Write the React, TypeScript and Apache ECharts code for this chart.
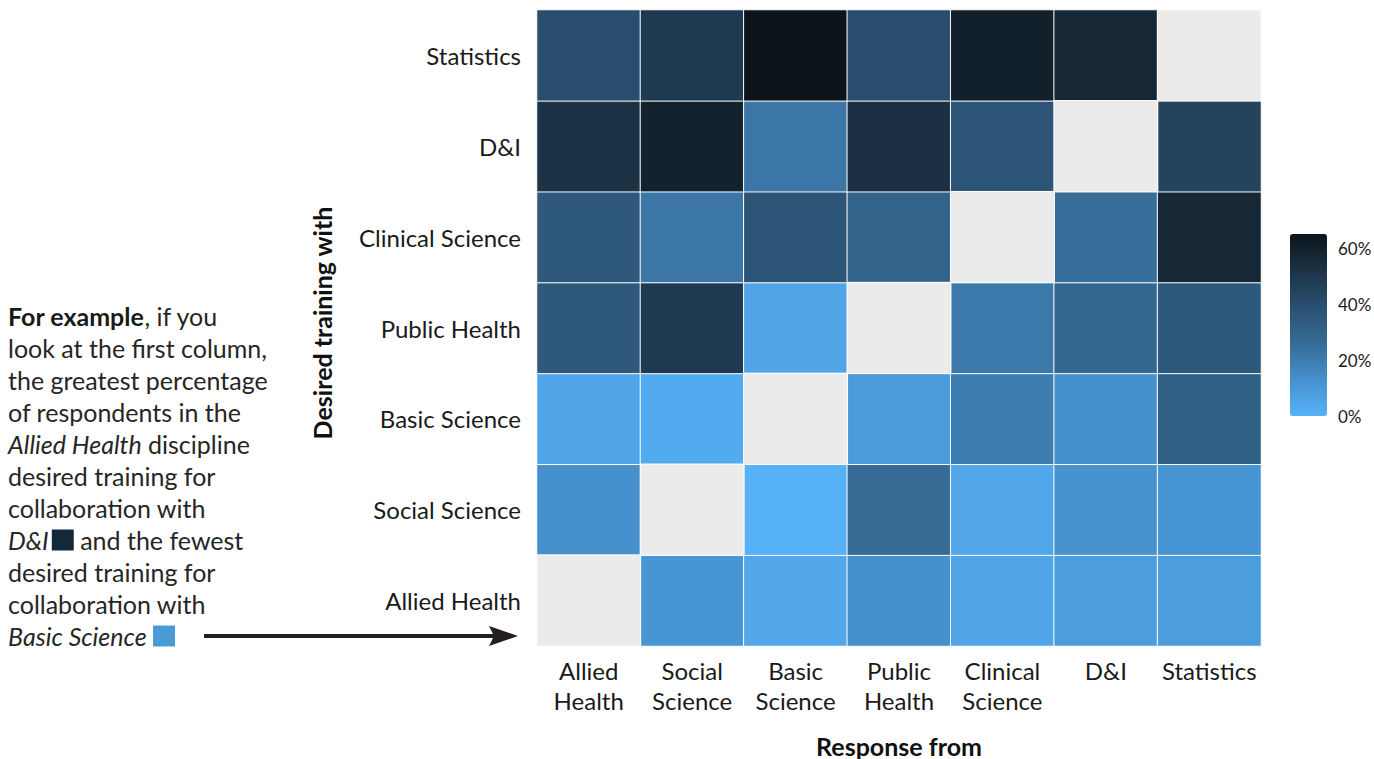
import React, { useEffect, useRef } from "react";
import * as echarts from "echarts";

// Categories (x: response from, y: desired training with; y listed bottom to top)
const responseFrom = ["Allied\nHealth", "Social\nScience", "Basic\nScience", "Public\nHealth", "Clinical\nScience", "D&I", "Statistics"];
const desiredWith = ["Allied Health", "Social Science", "Basic Science", "Public Health", "Clinical Science", "D&I", "Statistics"];

// Percent values per row (desired training with), columns in responseFrom order; null = same discipline
const alliedHealthRow = [null, 11, 4, 13, 5, 8, 8];
const socialScienceRow = [13, null, 0, 26, 4, 12, 11];
const basicScienceRow = [5, 2.5, null, 9, 20, 13, 32];
const publicHealthRow = [35, 49, 5, null, 21, 28, 35];
const clinicalScienceRow = [35, 22, 37, 30, null, 25, 57];
const diRow = [52, 59, 22, 53, 37, null, 45];
const statisticsRow = [40, 49, 65, 40, 60, 57, null];

const rows = [alliedHealthRow, socialScienceRow, basicScienceRow, publicHealthRow, clinicalScienceRow, diRow, statisticsRow];

// Colour scale
const scaleMin = 0;
const scaleMax = 65;
const scaleColors = ["#56b1f7", "#4690cd", "#366b96", "#2a5070", "#1c3346", "#0c141b"];
const legendTicks = [0, 20, 40, 60];

const FONT = "Lato, 'Source Sans Pro', 'Noto Sans', sans-serif";

export default function App() {
  const ref = useRef<HTMLDivElement>(null);

  useEffect(() => {
    if (!ref.current) return;
    const chart = echarts.init(ref.current, null, { renderer: "svg" });

    const valueData: any[] = [];
    const diagData: any[] = [];
    rows.forEach((row, yi) => {
      row.forEach((v, xi) => {
        if (v === null) diagData.push([xi, yi, 0]);
        else valueData.push([xi, yi, v]);
      });
    });

    const legendLeft = 1290;
    const legendTop = 234;
    const legendW = 37;
    const legendH = 182;

    const option: any = {
      animation: false,
      backgroundColor: "#ffffff",
      textStyle: { fontFamily: FONT },
      grid: [
        { left: 537, right: 113, top: 10, bottom: 113, outerBoundsMode: "none", containLabel: false },
        { left: legendLeft, top: legendTop, width: legendW, height: legendH, outerBoundsMode: "none", containLabel: false },
      ],
      xAxis: [
        {
          type: "category",
          gridIndex: 0,
          data: responseFrom,
          axisLine: { show: false },
          axisTick: { show: false },
          splitLine: { show: false },
          axisLabel: { color: "#1a1a1a", fontSize: 24, lineHeight: 30, margin: 9, fontFamily: FONT, interval: 0 },
          name: "Response from",
          nameLocation: "middle",
          nameGap: 87,
          nameTextStyle: { color: "#111", fontSize: 25, fontWeight: "bold", fontFamily: FONT },
        },
        {
          type: "value",
          gridIndex: 1,
          show: false,
        },
      ],
      yAxis: [
        {
          type: "category",
          gridIndex: 0,
          data: desiredWith,
          axisLine: { show: false },
          axisTick: { show: false },
          splitLine: { show: false },
          axisLabel: { color: "#1a1a1a", fontSize: 24, margin: 16, fontFamily: FONT, padding: [0, 0, 7, 0] },
          name: "Desired training with",
          nameLocation: "middle",
          nameRotate: 90,
          nameGap: 203,
          nameTextStyle: { color: "#111", fontSize: 25, fontWeight: "bold", fontFamily: FONT, padding: [0, 0, 0, 10] },
        },
        {
          type: "value",
          gridIndex: 1,
          min: scaleMin,
          max: scaleMax,
          interval: 20,
          position: "right",
          axisLine: { show: false },
          axisTick: { show: false },
          splitLine: { show: false },
          axisLabel: {
            color: "#1a1a1a",
            fontSize: 17,
            margin: 11,
            fontFamily: FONT,
            formatter: (v: number) => (legendTicks.indexOf(v) >= 0 ? v + "%" : ""),
          },
        },
      ],
      visualMap: [
        {
          type: "continuous",
          seriesIndex: 0,
          min: scaleMin,
          max: scaleMax,
          calculable: false,
          orient: "vertical",
          left: legendLeft,
          top: legendTop,
          itemWidth: legendW,
          itemHeight: legendH,
          padding: 0,
          text: ["", ""],
          showLabel: false,
          inRange: { color: scaleColors },
        },
        {
          type: "continuous",
          seriesIndex: 1,
          show: false,
          min: 0,
          max: 1,
          inRange: { color: ["#ebebeb", "#ebebeb"] },
        },
      ],
      series: [
        {
          type: "heatmap",
          xAxisIndex: 0,
          yAxisIndex: 0,
          data: valueData,
          itemStyle: { borderColor: "#ffffff", borderWidth: 1 },
          emphasis: { disabled: true },
        },
        {
          type: "heatmap",
          xAxisIndex: 0,
          yAxisIndex: 0,
          data: diagData,
          itemStyle: { borderColor: "#ffffff", borderWidth: 1 },
          emphasis: { disabled: true },
        },
      ],
      graphic: [
        {
          type: "text",
          left: 8,
          top: 300,
          style: {
            text: [
              "{b|For example}, if you",
              "look at the first column,",
              "the greatest percentage",
              "of respondents in the",
              "{i|Allied Health} discipline",
              "desired training for",
              "collaboration with",
              "{d|D&I}{sq1|} and the fewest",
              "desired training for",
              "collaboration with",
              "{i|Basic Science} {sq2|}",
            ].join("\n"),
            fill: "#262626",
            fontSize: 25,
            lineHeight: 32,
            fontFamily: FONT,
            rich: {
              b: { fontWeight: "bold", fontSize: 25, lineHeight: 32, fill: "#1a1a1a", fontFamily: FONT },
              i: { fontStyle: "italic", fontSize: 25, lineHeight: 32, fill: "#262626", fontFamily: FONT },
              d: { fontStyle: "italic", fontSize: 25, lineHeight: 32, fill: "#262626", fontFamily: FONT, padding: [0, 3, 0, 0] },
              sq1: { backgroundColor: "#13293a", width: 22, height: 21, lineHeight: 32 },
              sq2: { backgroundColor: "#4a9ad6", width: 22, height: 21, lineHeight: 32 },
            },
          },
        },
        {
          type: "line",
          shape: { x1: 204, y1: 636, x2: 496, y2: 636 },
          style: { stroke: "#231f20", lineWidth: 4 },
        },
        {
          type: "polygon",
          shape: { points: [[489, 626], [518, 636], [489, 646], [494, 636]] },
          style: { fill: "#231f20" },
        },
      ],
    };

    chart.setOption(option);
    return () => chart.dispose();
  }, []);

  return (
    <div
      ref={ref}
      style={{ position: "fixed", left: 0, top: 0, width: 1374, height: 759, overflow: "hidden" }}
    />
  );
}
